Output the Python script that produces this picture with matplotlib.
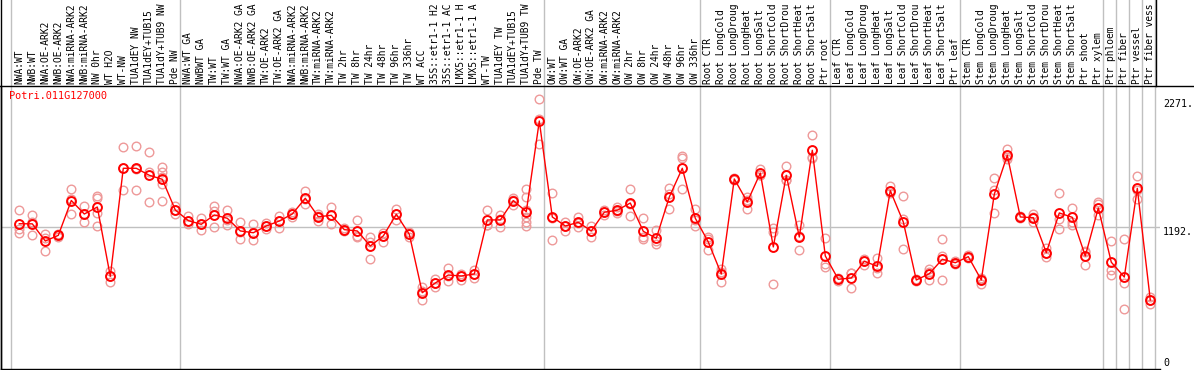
import numpy as np
import matplotlib
matplotlib.use("Agg")
from matplotlib import pyplot as plt
from matplotlib.lines import Line2D
import matplotlib.transforms as mtransforms

gene = "Potri.011G127000"

# sample names as far as they are visible above the plot
samples = [
    "NWA:WT", "NWB:WT", "NWA:OE-ARK2", "NWB:OE-ARK2", "NWA:miRNA-ARK2", "NWB:miRNA-ARK2",
    "NW 0hr", "WT H2O", "WT-NW", "TUA1dEY NW", "TUA1dEY+TUB15", "TUA1dY+TUB9 NW", "Pde NW",
    "NWA:WT GA", "NWBWT GA", "TW:WT", "TW:WT GA", "NWA:OE-ARK2 GA", "NWB:OE-ARK2 GA",
    "TW:OE-ARK2", "TW:OE-ARK2 GA", "NWA:miRNA-ARK2", "NWB:miRNA-ARK2", "TW:miRNA-ARK2",
    "TW:miRNA-ARK2", "TW 2hr", "TW 8hr", "TW 24hr", "TW 48hr", "TW 96hr", "TW 336hr",
    "WT ACC", "35S::etr1-1 H2", "35S::etr1-1 AC", "LMX5::etr1-1 H", "LMX5::etr1-1 A",
    "WT-TW", "TUA1dEY TW", "TUA1dEY+TUB15", "TUA1dY+TUB9 TW", "Pde TW",
    "OW:WT", "OW:WT GA", "OW:OE-ARK2", "OW:OE-ARK2 GA", "OW:miRNA-ARK2", "OW:miRNA-ARK2",
    "OW 2hr", "OW 8hr", "OW 24hr", "OW 48hr", "OW 96hr", "OW 336hr",
    "Root CTR", "Root LongCold", "Root LongDroug", "Root LongHeat", "Root LongSalt",
    "Root ShortCold", "Root ShortDrou", "Root ShortHeat", "Root ShortSalt", "Ptr root",
    "Leaf CTR", "Leaf LongCold", "Leaf LongDroug", "Leaf LongHeat", "Leaf LongSalt",
    "Leaf ShortCold", "Leaf ShortDrou", "Leaf ShortHeat", "Leaf ShortSalt", "Ptr leaf",
    "Stem CTR", "Stem LongCold", "Stem LongDroug", "Stem LongHeat", "Stem LongSalt",
    "Stem ShortCold", "Stem ShortDrou", "Stem ShortHeat", "Stem ShortSalt", "Ptr shoot",
    "Ptr xylem", "Ptr phloem", "Ptr fiber", "Ptr vessel", "Ptr fiber vess",
]

# first sample of each group (group separators)
group_starts = [0, 13, 41, 53, 63, 73, 84, 85, 86, 87, 88]

means = [
    1222, 1221, 1076, 1124, 1418, 1304, 1363, 778, 1690, 1690, 1631, 1597, 1338,
    1248, 1217, 1296, 1268, 1161, 1146, 1203, 1245, 1304, 1437, 1281, 1293, 1172,
    1161, 1034, 1119, 1302, 1133, 640, 722, 789, 781, 798, 1254, 1254, 1417, 1324, 2089,
    1279, 1203, 1234, 1161, 1319, 1336, 1397, 1158, 1099, 1448, 1690, 1268,
    1068, 798, 1600, 1406, 1650, 1026, 1631, 1110, 1842, 950,
    753, 764, 905, 863, 1501, 1237, 747, 800, 922, 893,
    944, 747, 1471, 1800, 1279, 1273, 978, 1313, 1276, 950, 1355,
    897, 772, 1521, 578,
]

replicates = [
    [1336, 1178, 1141], [1293, 1237, 1124], [1133, 1102, 992], [1135, 1124, 1110],
    [1515, 1431, 1304], [1372, 1304, 1233], [1460, 1435, 1313, 1207], [823, 778, 728],
    [1867, 1690, 1507], [1878, 1684, 1507], [1828, 1661, 1406],
    [1699, 1661, 1617, 1555, 1414], [1369, 1338, 1302],
    [1287, 1248, 1220], [1268, 1220, 1165], [1369, 1332, 1195], [1338, 1254, 1209],
    [1234, 1152, 1092], [1217, 1144, 1082], [1226, 1203, 1178], [1287, 1245, 1190],
    [1321, 1304, 1281], [1498, 1431, 1386], [1307, 1287, 1243], [1361, 1296, 1217],
    [1186, 1172, 1161], [1251, 1119, 1108], [1108, 1068, 924], [1146, 1119, 1065],
    [1347, 1302, 1254], [1152, 1133, 1110], [686, 654, 576], [756, 722, 691],
    [848, 781, 739], [798, 781, 747], [832, 798, 761], [1336, 1211, 1209],
    [1296, 1262, 1197], [1442, 1422, 1378], [1515, 1448, 1338, 1279, 1237, 1203],
    [2271, 2102, 1893],
    [1479, 1271, 1085], [1239, 1203, 1163], [1281, 1228, 1192], [1206, 1161, 1113],
    [1338, 1319, 1296], [1366, 1330, 1310], [1515, 1389, 1285], [1268, 1110, 1091],
    [1169, 1076, 1051], [1524, 1473, 1347], [1794, 1777, 1515], [1347, 1254, 1203],
    [1113, 1093, 1000], [843, 815, 733], [1608, 1600, 1591], [1450, 1422, 1344],
    [1684, 1634, 1634], [1189, 1155, 713], [1710, 1591, 1591], [1211, 1119, 1000],
    [1969, 1788, 1775], [1102, 882, 859],
    [764, 753, 739], [809, 809, 677], [924, 908, 874], [930, 848, 804],
    [1538, 1498, 1479], [1454, 1265, 1006], [756, 747, 739], [837, 815, 745],
    [1093, 947, 745], [908, 893, 882],
    [958, 941, 933], [767, 756, 716], [1606, 1507, 1310], [1853, 1783, 1766],
    [1287, 1279, 1271], [1302, 1279, 1237], [1020, 975, 944], [1479, 1260, 1180],
    [1357, 1239, 1211], [994, 983, 874], [1406, 1389, 1296],
    [1074, 832, 789], [1093, 719, 505], [1623, 1507, 1431], [606, 578, 545],
]

y_max = 2271
y_mid = 1192

W, H = 1194, 370
fig = plt.figure(figsize=(W / 100, H / 100), dpi=100)
fig.patch.set_facecolor("white")

# plot area in pixels
px_left, px_right, px_top, px_bot = 1, 1160, 86, 368.5
ax = fig.add_axes([px_left / W, (H - px_bot) / H, (px_right - px_left) / W, (px_bot - px_top) / H])

x = np.arange(len(samples))
step, x0 = 13.0, 19.3
ax.set_xlim((px_left - x0) / step, (px_right - x0) / step)
ax.set_ylim(0, y_max * 1.05)

for s in ["top", "right"]:
    ax.spines[s].set_visible(False)
for s in ["left", "bottom"]:
    ax.spines[s].set_color("black")
    ax.spines[s].set_linewidth(1.0)
ax.set_xticks([])
ax.set_yticks([])

grey = "#c0c0c0"
ymax_fig = px_bot / (px_bot - px_top)
for g in group_starts:
    ax.axvline(g - 0.64, ymin=0, ymax=ymax_fig, color=grey, lw=1.0, clip_on=False, zorder=0)
ax.axhline(y_mid, color=grey, lw=1.0, zorder=0)

# replicates
for i, reps in enumerate(replicates):
    ax.plot([i] * len(reps), reps, "o", mfc="none", mec="#ee9999", ms=6.2, mew=1.0, zorder=2)

# mean line and markers
ax.plot(x, means, color="red", lw=1.0, zorder=3)
ax.plot(x, means, "o", mfc="none", mec="red", ms=6.4, mew=1.4, zorder=4)

# sample labels above the plot
mono = "DejaVu Sans Mono"
trans = mtransforms.blended_transform_factory(ax.transData, ax.transAxes)
lab_y = (px_bot - 84) / (px_bot - px_top)
for i, name in enumerate(samples):
    ax.text(i, lab_y, name, transform=trans, rotation=90, ha="center", va="bottom",
            fontsize=6.9, family=mono, clip_on=False)

# value labels on the right
ytrans = mtransforms.blended_transform_factory(ax.transAxes, ax.transData)
lx = (1163 - px_left) / (px_right - px_left)
ax.text(lx, y_max, "%d." % y_max, transform=ytrans, ha="left", va="top", fontsize=7.2, family=mono, clip_on=False)
ax.text(lx, y_mid, "%d." % y_mid, transform=ytrans, ha="left", va="top", fontsize=7.2, family=mono, clip_on=False)
ax.text(lx, 0, "0", transform=ytrans, ha="left", va="bottom", fontsize=7.2, family=mono, clip_on=False)

# gene name
fig.text(9 / W, 1 - 91 / H, gene, color="red", ha="left", va="top", fontsize=7.4, family=mono)

# frame lines of the label area
fig.add_artist(Line2D([0, 1], [1 - 85.5 / H] * 2, color="black", lw=1.0, transform=fig.transFigure))
fig.add_artist(Line2D([1 / W, 1 / W], [0, 1], color="black", lw=1.0, transform=fig.transFigure))
fig.add_artist(Line2D([1155.5 / W] * 2, [1 - 85.5 / H, 1], color="black", lw=1.0, transform=fig.transFigure))

fig.savefig("out.png", dpi=100)
